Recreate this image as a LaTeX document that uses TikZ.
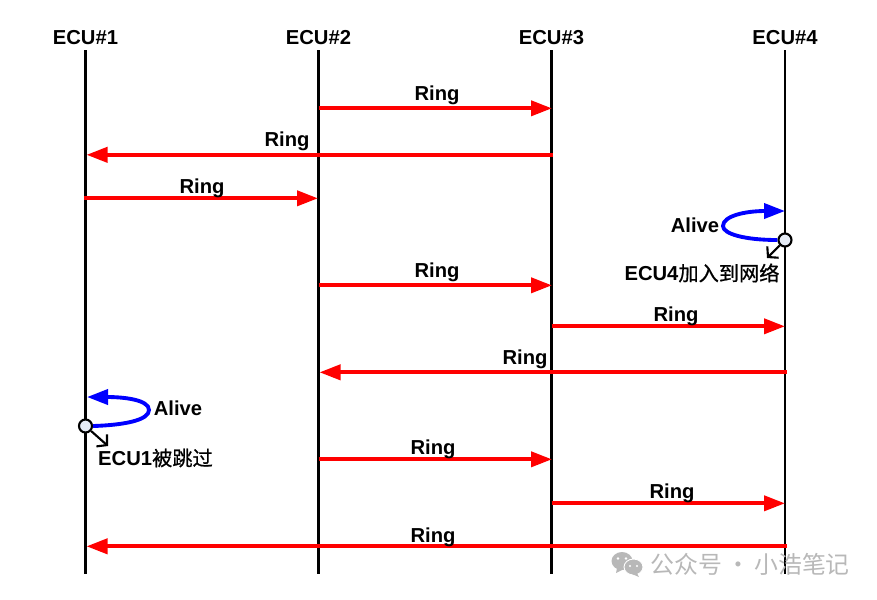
\documentclass[tikz,border=0pt]{standalone}
\usepackage{fontspec}
\setmainfont{Liberation Sans}
\newfontfamily\cjk{Noto Sans CJK SC}
\newfontfamily\cjkmed[FakeBold=0.8]{Noto Sans CJK SC}
\usepackage{xcolor}
\usetikzlibrary{arrows.meta}
\definecolor{markgray}{HTML}{B8B8B8}
\definecolor{dotfill}{HTML}{E6ECF6}
\tikzset{
  lbl/.style={font=\fontsize{5.75}{7}\selectfont\bfseries,inner sep=0pt},
  ring/.style={draw=red,line width=1.1pt,-{Triangle[length=.21cm,width=.15cm]}},
  alive/.style={draw=blue,line width=1.1pt,-{Triangle[length=.21cm,width=.15cm]}},
  lifeline/.style={draw=black,line width=.6pt},
  note/.style={draw=black,line width=.6pt,-{Straight Barb[length=.07cm,width=.16cm]}},
  dot/.style={circle,draw=black,line width=.6pt,fill=dotfill,minimum size=.13cm,inner sep=0pt},
  wmark/.style={font=\fontsize{6.8}{8}\selectfont\cjk,text=markgray,inner sep=0pt}
}
\begin{document}
\begin{tikzpicture}[y=-1cm]
\useasboundingbox(0,0)rectangle(8.77,5.99);
% lifelines
\foreach \n/\x in {1/0.855,2/3.185,3/5.515,4/7.85}{
\node[lbl](ecu\n)at(\x,0.38){ECU\#\n};
\coordinate(end\n)at(\x,5.74);
\draw[lifeline](\x,0.5)--(end\n);
}
% ring messages
\foreach \n/\xa/\xb/\y/\lx/\ly in {
a/3.185/5.52/1.083/4.37/0.95,
b/5.53/0.865/1.548/2.87/1.41,
c/0.84/3.18/1.983/2.02/1.88,
d/3.185/5.52/2.853/4.37/2.72,
e/5.515/7.85/3.263/6.76/3.16,
f/7.87/3.195/3.723/5.25/3.59,
g/3.185/5.52/4.593/4.33/4.49,
h/5.515/7.85/5.033/6.72/4.93,
i/7.87/0.865/5.463/4.33/5.37}{
\coordinate(from\n)at(\xa,\y);
\coordinate(to\n)at(\xb,\y);
\draw[ring](from\n)--(to\n);
\node[lbl](ring\n)at(\lx,\ly){Ring};
}
% ECU4 joins
\node[dot](joinfour)at(7.85,2.4){};
\coordinate(alivefour)at(7.85,2.11);
\coordinate(notefour)at(7.67,2.58);
\draw[alive](joinfour.west)..controls(7.45,2.4)and(7.23,2.34)..(7.23,2.26)..controls(7.23,2.16)and(7.45,2.11)..(alivefour);
\draw[note](joinfour)--(notefour);
\node[lbl](alivelblfour)at(6.95,2.25){Alive};
\node[lbl](notelblfour)at(7.02,2.73){ECU4{\cjkmed\mdseries 加入到网络}};
% ECU1 skipped
\node[dot](skipone)at(0.855,4.26){};
\coordinate(aliveone)at(0.87,3.97);
\coordinate(noteone)at(1.08,4.46);
\draw[alive](skipone.east)..controls(1.25,4.25)and(1.49,4.2)..(1.49,4.1)..controls(1.49,4.0)and(1.25,3.97)..(aliveone);
\draw[note](skipone)--(noteone);
\node[lbl](alivelblone)at(1.78,4.08){Alive};
\node[lbl](notelblone)at(1.555,4.58){ECU1{\cjkmed\mdseries 被跳过}};
% watermark
\fill[markgray](6.22,5.61)ellipse[x radius=.105cm,y radius=.09cm];
\fill[markgray](6.17,5.68)--(6.16,5.73)--(6.24,5.69)--cycle;
\fill[markgray](6.335,5.67)ellipse[x radius=.095cm,y radius=.08cm];
\draw[white,line width=.25pt](6.335,5.67)ellipse[x radius=.095cm,y radius=.08cm];
\fill[markgray](6.37,5.73)--(6.39,5.77)--(6.32,5.74)--cycle;
\fill[white](6.18,5.585)circle(.014cm)(6.26,5.585)circle(.014cm)(6.3,5.66)circle(.012cm)(6.37,5.66)circle(.012cm);
\node[wmark,anchor=west](marktext)at(6.5,5.64){公众号\,·\,小浩笔记};
\end{tikzpicture}
\end{document}
